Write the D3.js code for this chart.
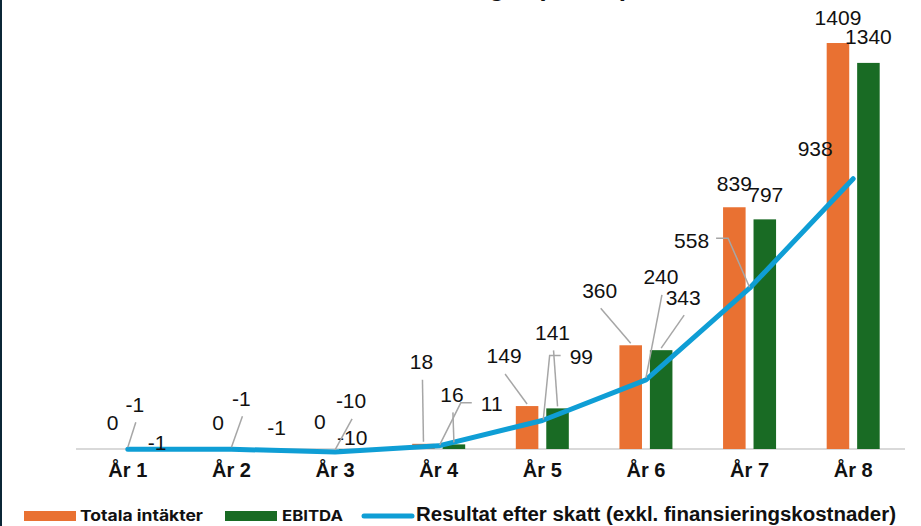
<!DOCTYPE html>
<html lang="sv">
<head>
<meta charset="UTF-8">
<title>Prognos</title>
<script src="https://cdn.jsdelivr.net/npm/d3@7"></script>
<style>
  body { margin: 0; background: #fff; }
  svg { display: block; font-family: "Liberation Sans", Arial, sans-serif; }
</style>
</head>
<body>
<svg id="chart"></svg>
<script>
// data
const years = ["År 1", "År 2", "År 3", "År 4", "År 5", "År 6", "År 7", "År 8"];
const intakter = [0, 0, 0, 18, 149, 360, 839, 1409];
const ebitda = [-1, -1, -10, 16, 141, 343, 797, 1340];
const resultat = [-1, -1, -10, 11, 99, 240, 558, 938];
const seriesNames = ["Totala intäkter", "EBITDA", "Resultat efter skatt (exkl. finansieringskostnader)"];

// label placement (offset from the mark, leader type), like the hand-moved excel labels
const offIntakter = [[0, -26, null], [2, -26, null], [0, -27, null], [-2, -82, "v"], [-23, -50, "v"], [-31, -55, "v"], [0, -24, null], [0, -25, null]];
const offEbitda = [[14, -7, null], [30, -22, null], [2, -14, null], [-2, -50, "v"], [-5, -76, "v"], [22, -53, "v"], [1, -25, null], [0, -26, null]];
const offResultat = [[7, -45, "v"], [10, -51, "v"], [16, -51, "v"], [53, -42, "l"], [39, -64, "l"], [15, -103, "v"], [-58, -48, "r"], [-38, -30, null]];

const width = 921, height = 526;
const colors = ["#e97132", "#196b24", "#0f9ed5"];

const svg = d3.select("#chart").attr("width", width).attr("height", height);

// dark frame edge at left
svg.append("rect").attr("x", 0).attr("y", 0).attr("width", 2).attr("height", height).attr("fill", "#0b2636");

// title, mostly cut off at the top
svg.append("text")
  .attr("x", 629).attr("y", -4)
  .attr("text-anchor", "end")
  .attr("font-weight", "bold").attr("font-size", 26)
  .attr("fill", "#111")
  .text("Finansiella beräkningar (MSEK)");

const x = d3.scaleBand().domain(years).range([76, 905]).padding(0);
const x1 = d3.scaleBand().domain([0, 1]).range([0, 53]).paddingInner(0.26);
const y = d3.scaleLinear().domain([0, 1500]).range([449, 449 - 432.2]);
const cx = d => x(d) + x.bandwidth() / 2;

// axis baseline
svg.append("line")
  .attr("x1", x.range()[0]).attr("x2", x.range()[1])
  .attr("y1", y(0)).attr("y2", y(0))
  .attr("stroke", "#d9d9d9").attr("stroke-width", 2);

// x labels
const xAxis = svg.append("g")
  .attr("transform", `translate(0,${y(0)})`)
  .call(d3.axisBottom(x).tickSize(0).tickPadding(14));
xAxis.select(".domain").remove();
xAxis.selectAll("text")
  .attr("font-family", "Liberation Sans, Arial, sans-serif")
  .attr("font-size", 20).attr("font-weight", "bold").attr("fill", "#111");

// bars
const barSeries = [intakter, ebitda];
barSeries.forEach((vals, s) => {
  svg.append("g").selectAll("rect")
    .data(vals)
    .join("rect")
      .attr("x", (d, i) => cx(years[i]) - 26.5 + x1(s))
      .attr("width", x1.bandwidth())
      .attr("y", d => y(Math.max(0, d)))
      .attr("height", d => Math.abs(y(d) - y(0)))
      .attr("fill", colors[s]);
});

// line
const line = d3.line()
  .x((d, i) => cx(years[i]))
  .y(d => y(d));
svg.append("path")
  .datum(resultat)
  .attr("d", line)
  .attr("fill", "none")
  .attr("stroke", colors[2])
  .attr("stroke-width", 5)
  .attr("stroke-linejoin", "round")
  .attr("stroke-linecap", "round");

// data labels
const labelGroup = svg.append("g");
const leaderGroup = svg.append("g");
function addLabels(vals, offs, anchorX) {
  vals.forEach((v, i) => {
    const ax = anchorX(i), ay = y(v);
    const [dx, dy, leader] = offs[i];
    const lx = ax + dx, ly = ay + dy;
    const t = labelGroup.append("text")
      .attr("x", lx).attr("y", ly).attr("dy", "0.35em")
      .attr("text-anchor", "middle")
      .attr("font-size", 21).attr("fill", "#111")
      .text(v);
    if (!leader) return;
    const w = t.node().getComputedTextLength();
    let pts;
    if (leader === "v") pts = [[lx + 1, ly + 18], [ax, ay - 2]];
    else if (leader === "l") pts = [[lx - w / 2 - 9, ly - 1], [lx - w / 2 - 20, ly - 1], [ax + 1, ay - 1]];
    else pts = [[lx + w / 2 + 7, ly - 2], [lx + w / 2 + 19, ly - 2], [ax, ay - 1]];
    leaderGroup.append("path")
      .attr("d", d3.line()(pts))
      .attr("fill", "none")
      .attr("stroke", "#a6a6a6")
      .attr("stroke-width", 1.5);
  });
}
addLabels(intakter, offIntakter, i => cx(years[i]) - 26.5 + x1(0) + x1.bandwidth() / 2);
addLabels(ebitda, offEbitda, i => cx(years[i]) - 26.5 + x1(1) + x1.bandwidth() / 2);
addLabels(resultat, offResultat, i => cx(years[i]));

// legend
const legend = svg.append("g");
legend.append("rect").attr("x", 24).attr("y", 511).attr("width", 52).attr("height", 10).attr("fill", colors[0]);
legend.append("text").attr("x", 80).attr("y", 521)
  .attr("font-family", "Inter, sans-serif").attr("font-weight", 700).attr("font-size", 15)
  .attr("textLength", 123).attr("lengthAdjust", "spacingAndGlyphs")
  .attr("fill", "#111").text(seriesNames[0]);
legend.append("rect").attr("x", 225).attr("y", 511).attr("width", 52).attr("height", 10).attr("fill", colors[1]);
legend.append("text").attr("x", 282).attr("y", 521)
  .attr("font-family", "Inter, sans-serif").attr("font-weight", 700).attr("font-size", 15)
  .attr("textLength", 61).attr("lengthAdjust", "spacingAndGlyphs")
  .attr("fill", "#111").text(seriesNames[1]);
legend.append("line").attr("x1", 364).attr("x2", 412).attr("y1", 516).attr("y2", 516)
  .attr("stroke", colors[2]).attr("stroke-width", 5).attr("stroke-linecap", "round");
legend.append("text").attr("x", 416).attr("y", 521)
  .attr("font-weight", "bold").attr("font-size", 20)
  .attr("textLength", 480).attr("lengthAdjust", "spacingAndGlyphs")
  .attr("fill", "#111").text(seriesNames[2]);
</script>
</body>
</html>
